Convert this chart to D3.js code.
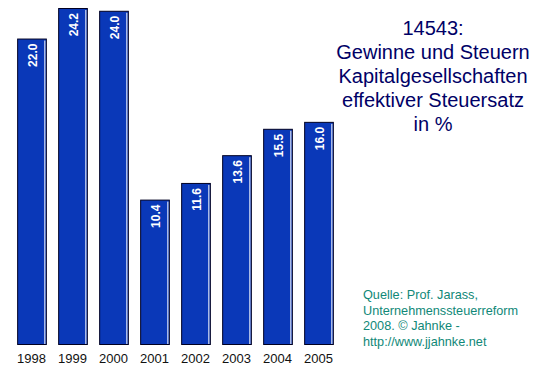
<!DOCTYPE html>
<html>
<head>
<meta charset="utf-8">
<script src="https://cdn.jsdelivr.net/npm/d3@7"></script>
<style>
  body { margin: 0; background: #fff; }
  text { font-family: "Liberation Sans", Arial, sans-serif; }
</style>
</head>
<body>
<script>
var years = ['1998', '1999', '2000', '2001', '2002', '2003', '2004', '2005'];
var rates = [22.0, 24.2, 24.0, 10.4, 11.6, 13.6, 15.5, 16.0];
var titleLines = ['14543:', 'Gewinne und Steuern', 'Kapitalgesellschaften', 'effektiver Steuersatz', 'in %'];
var sourceLines = ['Quelle: Prof. Jarass,', 'Unternehmenssteuerreform', '2008. \u00a9 Jahnke -', 'http://www.jjahnke.net'];

function plot_it() {
    var width = 553, height = 376;
    var svg = d3.select('body').append('svg').attr('width', width).attr('height', height);

    var x = d3.scaleBand().domain(years).range([11, 339]).paddingInner(0.3).paddingOuter(0.15);
    var y = d3.scaleLinear().domain([0, 24.2]).range([344, 8]);

    var bar = svg.selectAll('.bar')
        .data(years)
        .enter().append('g')
        .attr('class', 'bar');

    bar.append('rect')
        .attr('x', function (d) { return x(d) + 0.5; })
        .attr('y', function (d, i) { return y(rates[i]) + 0.5; })
        .attr('width', x.bandwidth())
        .attr('height', function (d, i) { return y(0) - y(rates[i]); })
        .attr('fill', '#0a38b8')
        .attr('stroke', '#000022');

    // white highlight on right edge
    bar.append('line')
        .attr('x1', function (d) { return x(d) + x.bandwidth() - 1; })
        .attr('x2', function (d) { return x(d) + x.bandwidth() - 1; })
        .attr('y1', function (d, i) { return y(rates[i]) + 2; })
        .attr('y2', y(0))
        .attr('stroke', '#ffffff')
        .attr('stroke-width', 1);

    bar.append('text')
        .attr('transform', function (d, i) {
            return 'translate(' + (x(d) + x.bandwidth() / 2 + 5) + ',' + (y(rates[i]) + 5) + ') rotate(-90)';
        })
        .attr('text-anchor', 'end')
        .attr('fill', '#fff')
        .style('font-size', '12px')
        .style('font-weight', 'bold')
        .text(function (d, i) { return rates[i].toFixed(1); });

    svg.selectAll('.year')
        .data(years)
        .enter().append('text')
        .attr('class', 'year')
        .attr('x', function (d) { return x(d) + x.bandwidth() / 2; })
        .attr('y', 363)
        .attr('text-anchor', 'middle')
        .attr('fill', '#111')
        .style('font-size', '13px')
        .text(function (d) { return d; });

    svg.append('g').selectAll('text')
        .data(titleLines)
        .enter().append('text')
        .attr('x', 433)
        .attr('y', function (d, i) { return 35 + i * 24; })
        .attr('text-anchor', 'middle')
        .attr('fill', '#000066')
        .style('font-size', '20px')
        .text(function (d) { return d; });

    svg.append('g').selectAll('text')
        .data(sourceLines)
        .enter().append('text')
        .attr('x', 363)
        .attr('y', function (d, i) { return 299 + i * 15.7; })
        .attr('fill', '#108878')
        .style('font-size', '12.7px')
        .text(function (d) { return d; });
}
plot_it();
</script>
</body>
</html>
